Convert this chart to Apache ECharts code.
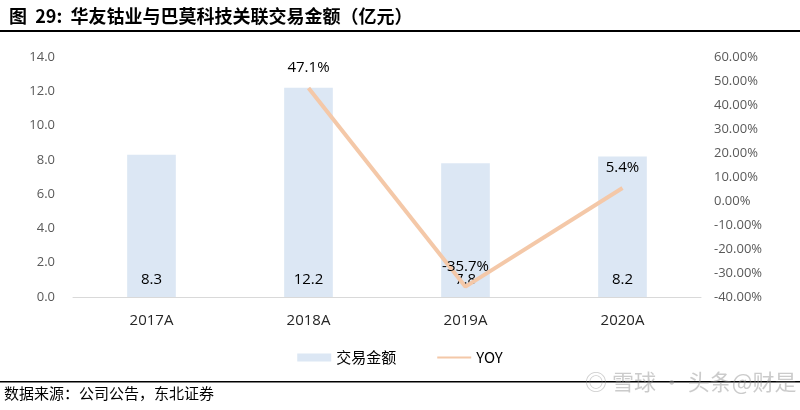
<!DOCTYPE html>
<html><head><meta charset="utf-8">
<script src="https://cdn.jsdelivr.net/npm/echarts@6/dist/echarts.min.js"></script>
<style>html,body{margin:0;padding:0;background:#fff;}#c{width:800px;height:410px;}</style>
</head><body><div id="c"></div>
<script>
const categories = ['2017A', '2018A', '2019A', '2020A'];
const amount = [8.3, 12.2, 7.8, 8.2];
const yoy = [null, 47.1, -35.7, 5.4];
const leftTicks = {min: 0, max: 14, interval: 2};
const rightTicks = {min: -40, max: 60, interval: 10};

const chart = echarts.init(document.getElementById('c'));
const cjk = '"Noto Sans CJK SC", "Noto Sans", sans-serif';
const axisFont = '"Open Sans", "Noto Sans", sans-serif';
chart.setOption({
  backgroundColor: '#fff',
  animation: false,
  title: {
    text: '图  29:  华友钴业与巴莫科技关联交易金额（亿元）',
    left: 4, top: 2,
    textStyle: {fontFamily: cjk, fontWeight: 'bold', fontSize: 18, color: '#000'}
  },
  graphic: [
    {type: 'rect', shape: {x: 0, y: 30, width: 800, height: 2}, style: {fill: '#000'}},
    {type: 'rect', shape: {x: 0, y: 381, width: 800, height: 1.5}, style: {fill: '#000'}},
    {type: 'text', left: 4, top: 386, style: {text: '数据来源：公司公告，东北证券', fontFamily: cjk, fontSize: 15, fill: '#000'}},
    {type: 'text', left: 585, top: 371, style: {text: '◎ 雪球 · 头条@财是', fontFamily: cjk, fontSize: 22, fill: 'rgba(140,140,140,0.45)'}}
  ],
  legend: {
    bottom: 40, left: 'center',
    itemGap: 40,
    textStyle: {fontFamily: cjk, fontSize: 15, color: '#000'},
    data: [
      {name: '交易金额', icon: 'rect', itemStyle: {color: '#DCE7F4'}},
      {name: 'YOY', itemStyle: {opacity: 0}}
    ],
    itemWidth: 34, itemHeight: 8
  },
  grid: {left: 73, right: 99, top: 57, bottom: 113},
  xAxis: {
    type: 'category', data: categories,
    axisLine: {lineStyle: {color: '#d9d9d9', width: 1}},
    axisTick: {show: false},
    axisLabel: {color: '#262626', fontSize: 15, fontFamily: axisFont, margin: 16}
  },
  yAxis: [
    {type: 'value', min: leftTicks.min, max: leftTicks.max, interval: leftTicks.interval,
     splitLine: {show: false}, axisLine: {show: false}, axisTick: {show: false},
     axisLabel: {color: '#595959', fontSize: 13, fontFamily: axisFont, margin: 18,
       formatter: v => v.toFixed(1)}},
    {type: 'value', min: rightTicks.min, max: rightTicks.max, interval: rightTicks.interval,
     splitLine: {show: false}, axisLine: {show: false}, axisTick: {show: false},
     axisLabel: {color: '#595959', fontSize: 13, fontFamily: axisFont, margin: 13,
       formatter: v => v.toFixed(2) + '%'}}
  ],
  series: [
    {name: '交易金额', type: 'bar', data: amount, barWidth: '31%',
     itemStyle: {color: '#DCE7F4'},
     label: {show: true, position: 'insideBottom', distance: 10, color: '#000', fontSize: 15, fontFamily: axisFont}},
    {name: 'YOY', type: 'line', yAxisIndex: 1, data: yoy, symbol: 'circle', symbolSize: 1, showSymbol: true,
     connectNulls: false,
     lineStyle: {color: '#F4C8A8', width: 4},
     itemStyle: {color: 'rgba(0,0,0,0)', borderWidth: 0},
     label: {show: true, position: 'top', distance: 12, color: '#000', fontSize: 15, fontFamily: axisFont,
       formatter: p => p.value + '%'}}
  ]
});
</script></body></html>
